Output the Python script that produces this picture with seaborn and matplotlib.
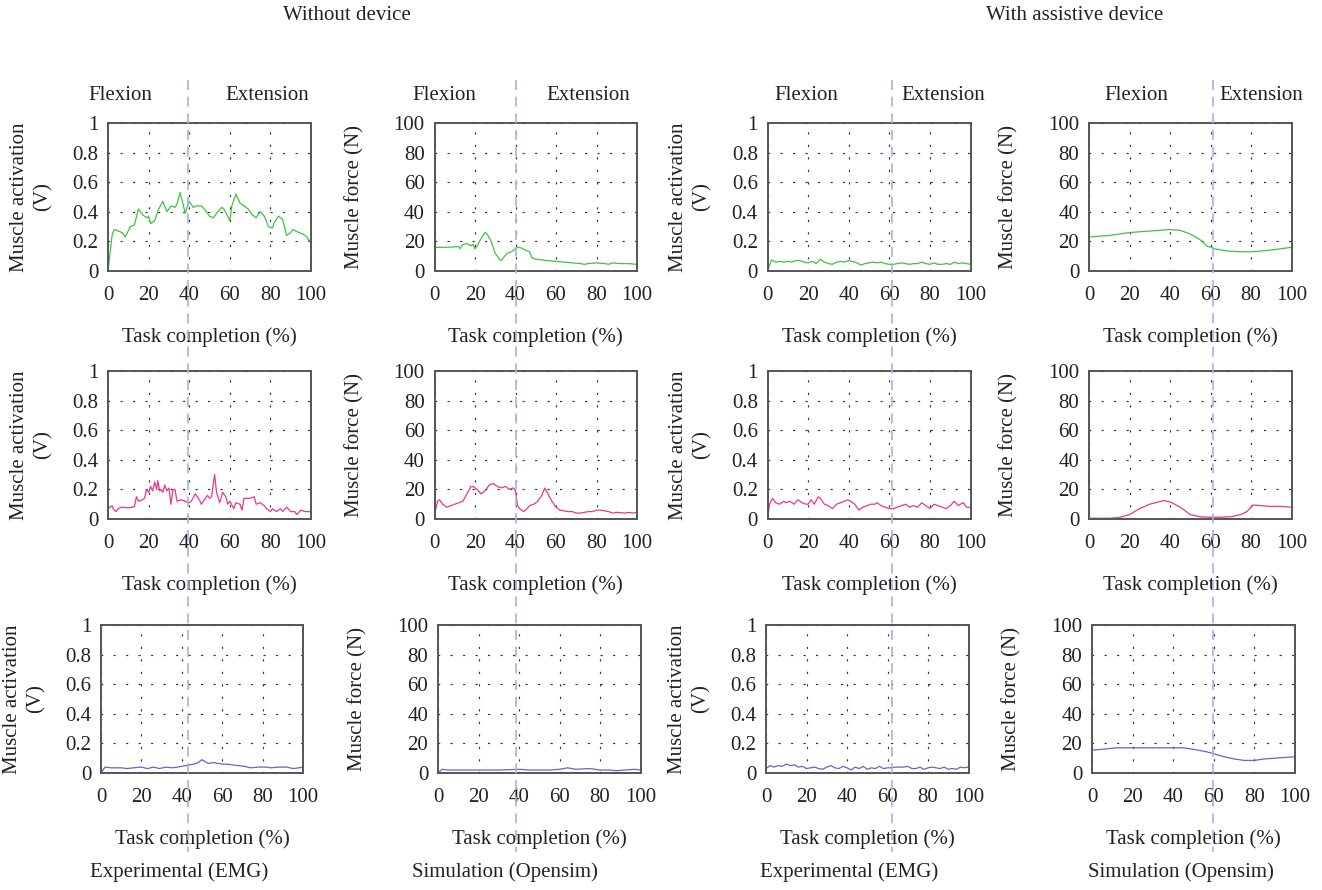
"""
Muscle activation (EMG) and simulated muscle force, with and without the assistive device.
3 muscles (rows) x 4 panels (columns), flexion / extension split shown by dashed lines.
"""

import numpy as np
import pandas as pd
import matplotlib.pyplot as plt
from matplotlib.lines import Line2D
import seaborn as sns

# ============================
# 1. Data
# ============================

# --- row 1 (green) ---
g_emg_wo_x = [0, 1, 2, 3, 5, 7, 8.5, 11, 13, 15, 17, 19, 20, 21, 23, 25, 27, 29, 31, 33, 34, 35.5,
              37, 38, 40, 42, 44, 46, 48, 50, 52, 54, 56, 57, 59, 60, 61, 63, 65, 67, 69, 71, 73, 75,
              77, 79, 81, 82, 84, 86, 88, 90, 91, 94, 96, 98, 99, 100]
g_emg_wo_y = [0.0, 0.12, 0.24, 0.28, 0.27, 0.26, 0.23, 0.30, 0.31, 0.42, 0.38, 0.36, 0.37, 0.32, 0.34,
              0.42, 0.47, 0.40, 0.44, 0.43, 0.45, 0.53, 0.45, 0.39, 0.47, 0.43, 0.44, 0.44, 0.41, 0.37,
              0.36, 0.40, 0.43, 0.42, 0.37, 0.34, 0.44, 0.52, 0.46, 0.44, 0.42, 0.38, 0.36, 0.40, 0.37,
              0.30, 0.29, 0.33, 0.37, 0.35, 0.24, 0.26, 0.28, 0.26, 0.25, 0.23, 0.20, 0.22]

g_force_wo_x = [0, 6, 12, 12.5, 14, 16, 18, 19, 20, 21.5, 23, 25, 26, 28, 30, 32, 33, 34, 36, 38, 39,
                41, 43, 45, 47, 48, 50, 53, 56, 60, 64, 68, 72, 74, 76, 80, 84, 86, 88, 92, 96, 100]
g_force_wo_y = [16, 16, 16.5, 15, 18, 18.5, 17, 18, 15, 18, 22, 26, 25, 20, 12, 8, 7, 9, 12, 13, 14,
                16, 15.5, 14, 13, 9, 8, 7.5, 7, 6.5, 6, 5.5, 5, 4.5, 5, 5.5, 5, 4.5, 5.5, 5, 5, 4.5]

g_emg_w_x = [0, 2, 4, 6, 8, 10, 12, 14, 16, 18, 20, 22, 24, 26, 28, 30, 32, 34, 36, 38, 40, 42, 44,
             46, 48, 50, 52, 54, 56, 58, 60, 62, 64, 66, 68, 70, 72, 74, 76, 78, 80, 82, 84, 86, 88,
             90, 92, 94, 96, 98, 100]
g_emg_w_y = [0.0, 0.075, 0.06, 0.065, 0.06, 0.065, 0.06, 0.07, 0.07, 0.06, 0.055, 0.065, 0.05, 0.08,
             0.06, 0.05, 0.045, 0.06, 0.065, 0.06, 0.07, 0.065, 0.055, 0.04, 0.05, 0.055, 0.06, 0.055,
             0.06, 0.05, 0.045, 0.045, 0.05, 0.055, 0.05, 0.045, 0.05, 0.05, 0.06, 0.05, 0.045, 0.055,
             0.045, 0.045, 0.05, 0.045, 0.06, 0.05, 0.055, 0.05, 0.045]

g_force_w_x = [0, 10, 20, 30, 40, 45, 50, 55, 58, 62, 68, 75, 80, 85, 92, 100]
g_force_w_y = [23, 24, 26, 27, 28, 27.5, 25, 21, 17, 15, 13.5, 13, 13, 13.5, 14.5, 16]

# --- row 2 (pink) ---
p_emg_wo_x = [0, 1, 2, 3, 4, 5, 7, 10, 12, 13, 14, 15, 17, 18, 19, 20, 21, 22, 23, 24, 24.5, 25.5,
              26, 27, 28, 29, 30, 31, 32, 33, 34, 36, 38, 40, 41, 43, 45, 46, 47, 49, 50, 51, 52.5,
              53.5, 55, 56.5, 58, 59, 60, 62, 63, 65, 66, 67, 70, 72, 73, 75, 77, 78, 80, 81, 83, 85,
              86, 88, 90, 92, 93, 95, 97, 100]
p_emg_wo_y = [0.07, 0.08, 0.09, 0.06, 0.05, 0.07, 0.08, 0.075, 0.08, 0.085, 0.15, 0.12, 0.13, 0.14,
              0.20, 0.18, 0.22, 0.19, 0.25, 0.20, 0.26, 0.19, 0.20, 0.18, 0.23, 0.19, 0.21, 0.10, 0.20,
              0.20, 0.12, 0.13, 0.12, 0.11, 0.12, 0.17, 0.13, 0.10, 0.12, 0.16, 0.14, 0.15, 0.30, 0.18,
              0.11, 0.18, 0.15, 0.10, 0.12, 0.07, 0.11, 0.10, 0.06, 0.14, 0.14, 0.15, 0.10, 0.11, 0.09,
              0.07, 0.05, 0.07, 0.05, 0.07, 0.05, 0.08, 0.05, 0.05, 0.03, 0.06, 0.05, 0.05]

p_force_wo_x = [0, 1.5, 2.5, 4, 6, 8, 10, 12, 14, 16, 18, 19, 21, 23, 25, 27, 29, 31, 33, 35, 37, 39,
                40, 41, 42, 44, 45, 47, 49, 51, 53, 54.5, 56, 58, 60, 62, 64, 66, 68, 70, 72, 74, 76,
                78, 80, 82, 84, 86, 88, 90, 94, 96, 98, 100]
p_force_wo_y = [3, 12, 13, 10, 8, 9, 10, 11, 12, 17, 22, 22, 20, 17, 19, 23, 24, 22, 21, 22, 20, 21,
                19, 9, 7, 5, 6, 9, 10, 12, 16, 21, 17, 12, 8, 6, 5.5, 5, 5, 4, 4, 4.5, 5, 5, 6, 6,
                5.5, 5, 4, 4.5, 4, 4.5, 4, 4.5]

p_emg_w_x = [0, 1, 2.5, 4, 6, 8, 9, 11, 13, 15, 17, 19, 20, 21.5, 23, 25, 26, 28, 30, 32, 34, 36, 38,
             39.5, 41, 43, 45, 47, 49, 51, 53, 54, 56, 58, 60, 62, 64, 66, 68, 70, 72, 74, 76, 78,
             80, 82, 84, 86, 88, 90, 92, 94, 95, 96.5, 98, 100]
p_emg_w_y = [0.0, 0.10, 0.14, 0.11, 0.10, 0.12, 0.11, 0.12, 0.10, 0.13, 0.11, 0.10, 0.10, 0.13, 0.10,
             0.15, 0.14, 0.10, 0.09, 0.07, 0.10, 0.11, 0.12, 0.13, 0.12, 0.10, 0.06, 0.08, 0.09, 0.10,
             0.10, 0.11, 0.09, 0.08, 0.07, 0.07, 0.08, 0.09, 0.10, 0.08, 0.09, 0.08, 0.11, 0.09, 0.07,
             0.10, 0.09, 0.08, 0.07, 0.09, 0.12, 0.09, 0.10, 0.11, 0.08, 0.08]

p_force_w_x = [0, 10, 15, 20, 25, 30, 37, 41, 45, 50, 55, 60, 65, 70, 75, 78, 81, 85, 90, 95, 100]
p_force_w_y = [0.5, 0.5, 1, 3, 7, 10, 12.5, 11, 8, 3, 1.5, 1.2, 1.2, 1.5, 3, 5, 9.5, 9, 8.5, 8.5, 8]

# --- row 3 (blue) ---
b_emg_wo_x = [0, 2, 5, 8, 10, 13, 16, 20, 23, 26, 29, 32, 35, 38, 40, 42, 44, 46, 48, 50, 53, 56,
              60, 62, 65, 68, 71, 74, 78, 82, 84, 88, 92, 95, 98, 100]
b_emg_wo_y = [0.0, 0.04, 0.035, 0.035, 0.035, 0.03, 0.035, 0.04, 0.03, 0.04, 0.03, 0.04, 0.035, 0.04,
              0.045, 0.05, 0.055, 0.06, 0.07, 0.09, 0.065, 0.07, 0.06, 0.06, 0.055, 0.05, 0.045,
              0.035, 0.04, 0.04, 0.035, 0.04, 0.04, 0.03, 0.035, 0.04]

b_force_wo_x = [0, 2, 5, 10, 20, 30, 40, 45, 55, 60, 64, 68, 75, 80, 85, 88, 92, 97, 100]
b_force_wo_y = [0, 2.5, 2, 2, 2, 2, 2.5, 2, 2, 2.5, 3.5, 2.5, 3, 2, 2, 1.5, 2, 2.5, 2]

b_emg_w_x = [0, 2, 4, 6, 8, 10, 12, 14, 16, 18, 20, 22, 24, 26, 28, 30, 32, 34, 36, 38, 40, 42, 44,
             46, 48, 50, 52, 54, 56, 58, 60, 62, 64, 66, 68, 70, 72, 74, 76, 78, 80, 82, 84, 86, 88,
             90, 92, 94, 96, 98, 100]
b_emg_w_y = [0.03, 0.05, 0.04, 0.05, 0.045, 0.06, 0.05, 0.055, 0.04, 0.045, 0.03, 0.035, 0.04, 0.03,
             0.025, 0.04, 0.05, 0.035, 0.03, 0.045, 0.035, 0.02, 0.04, 0.03, 0.045, 0.025, 0.035, 0.03,
             0.045, 0.03, 0.035, 0.035, 0.04, 0.04, 0.04, 0.045, 0.03, 0.03, 0.04, 0.025, 0.035,
             0.04, 0.035, 0.03, 0.04, 0.025, 0.03, 0.025, 0.04, 0.035, 0.04]

b_force_w_x = [0, 5, 12, 20, 30, 40, 45, 50, 56, 60, 65, 70, 75, 80, 85, 90, 95, 100]
b_force_w_y = [15.5, 16, 17, 17, 17, 17, 17, 16, 14.5, 13, 11, 9.5, 8.5, 8.5, 9.5, 10, 10.5, 11]

emg_ticks = [0, 0.2, 0.4, 0.6, 0.8, 1]
emg_ticklabels = ["0", "0.2", "0.4", "0.6", "0.8", "1"]
force_ticks = [0, 20, 40, 60, 80, 100]
x_ticks = [0, 20, 40, 60, 80, 100]

# ============================
# 2. Style
# ============================
sns.set_style("white")
plt.rcParams["font.family"] = ["Liberation Serif", "DejaVu Serif"]
plt.rcParams["text.color"] = "#222222"

GREEN = "#3fc43f"
PINK = "#e6398c"
BLUE = "#6464cc"
DASH = "#9db5e6"
SPINE = "#555555"
FS = 15

W, H = 1322, 890
fig = plt.figure(figsize=(W / 100, H / 100), dpi=100)

# axes boxes in pixels: (left, right) per column, (top, bottom) per row
cols_r12 = [(108, 311), (434.5, 637), (767.5, 970.5), (1089, 1291.5)]
cols_r3 = [(101, 303), (438, 640.5), (766, 968.5), (1092, 1295)]
rows = [(123, 271), (371, 519), (625, 773)]

panels = [
    [(g_emg_wo_x, g_emg_wo_y, GREEN, "emg"), (g_force_wo_x, g_force_wo_y, GREEN, "force"),
     (g_emg_w_x, g_emg_w_y, GREEN, "emg"), (g_force_w_x, g_force_w_y, GREEN, "force")],
    [(p_emg_wo_x, p_emg_wo_y, PINK, "emg"), (p_force_wo_x, p_force_wo_y, PINK, "force"),
     (p_emg_w_x, p_emg_w_y, PINK, "emg"), (p_force_w_x, p_force_w_y, PINK, "force")],
    [(b_emg_wo_x, b_emg_wo_y, BLUE, "emg"), (b_force_wo_x, b_force_wo_y, BLUE, "force"),
     (b_emg_w_x, b_emg_w_y, BLUE, "emg"), (b_force_w_x, b_force_w_y, BLUE, "force")],
]


def px_rect(x0, x1, y0, y1):
    return [x0 / W, 1 - y1 / H, (x1 - x0) / W, (y1 - y0) / H]


# ============================
# 3. Panels
# ============================
for r, row_panels in enumerate(panels):
    cols = cols_r3 if r == 2 else cols_r12
    top, bottom = rows[r]
    for c, (xs, ys, color, kind) in enumerate(row_panels):
        x0, x1 = cols[c]
        ax = fig.add_axes(px_rect(x0, x1, top, bottom))
        df = pd.DataFrame({"t": xs, "v": ys})
        sns.lineplot(data=df, x="t", y="v", ax=ax, color=color, lw=0.9,
                     estimator=None, sort=False)
        ax.set_xlim(0, 100)
        ax.set_xticks(x_ticks)
        if kind == "emg":
            ax.set_ylim(0, 1)
            ax.set_yticks(emg_ticks)
            ax.set_yticklabels(emg_ticklabels)
            ylab = "Muscle activation\n(V)"
            lab_x = -77 / (x1 - x0)
        else:
            ax.set_ylim(0, 100)
            ax.set_yticks(force_ticks)
            ylab = "Muscle force (N)"
            lab_x = -80 / (x1 - x0)
        ax.set_xlabel("")
        ax.set_ylabel("")
        ax.text(lab_x, 0.5, ylab, transform=ax.transAxes, rotation=90,
                ha="center", va="center", fontsize=FS, linespacing=1.3,
                multialignment="center")
        ax.text(0.5, -66 / (bottom - top), "Task completion (%)", transform=ax.transAxes,
                ha="center", va="center", fontsize=FS)

        ax.grid(True, color="#333333", linestyle=(0, (1, 9)), linewidth=0.9,
                dash_capstyle="round")
        for s in ax.spines.values():
            s.set_color(SPINE)
            s.set_linewidth(1.4)
        ax.tick_params(axis="both", direction="out", length=5, width=1.2, color=SPINE,
                       labelsize=FS, labelcolor="#222222")
        ax.tick_params(axis="x", pad=6)
        ax.tick_params(axis="y", pad=2)

# ============================
# 4. Figure-level annotations
# ============================
for xpx in [188, 516, 892, 1213]:
    fig.add_artist(Line2D([xpx / W, xpx / W], [1 - 80 / H, 1 - 852 / H],
                          transform=fig.transFigure, color=DASH, lw=1.2,
                          linestyle=(0, (6, 4)), zorder=10))

fig.text(347 / W, 1 - 15 / H, "Without device", ha="center", va="center", fontsize=FS)
fig.text(1075 / W, 1 - 15 / H, "With assistive device", ha="center", va="center", fontsize=FS)

flex_x = [120, 444, 806, 1136]
ext_x = [267, 588, 943, 1261]
for fx, ex in zip(flex_x, ext_x):
    fig.text(fx / W, 1 - 95 / H, "Flexion", ha="center", va="center", fontsize=FS)
    fig.text(ex / W, 1 - 95 / H, "Extension", ha="center", va="center", fontsize=FS)

bottom_labels = ["Experimental (EMG)", "Simulation (Opensim)",
                 "Experimental (EMG)", "Simulation (Opensim)"]
bottom_x = [90, 412, 760, 1088]
for lx, lab in zip(bottom_x, bottom_labels):
    fig.text(lx / W, 1 - 872 / H, lab, ha="left", va="center", fontsize=FS)

fig.savefig("out.png", dpi=100)
